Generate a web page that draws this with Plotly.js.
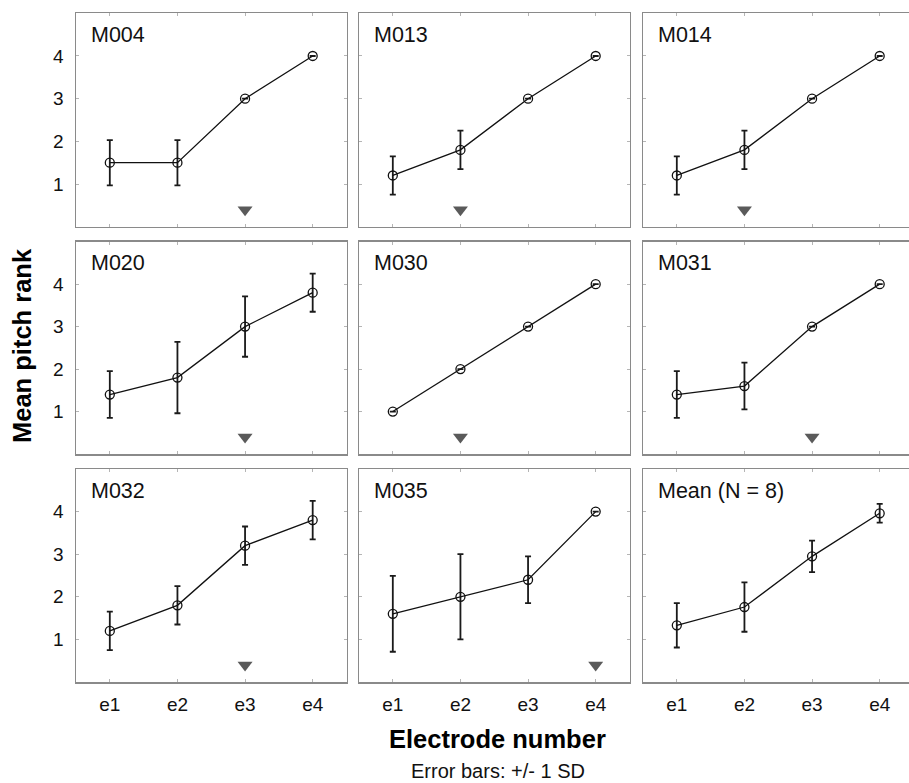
<!DOCTYPE html>
<html>
<head>
<meta charset="utf-8">
<script src="https://cdn.plot.ly/plotly-3.0.1.min.js"></script>
<style>
  html, body { margin: 0; padding: 0; overflow: hidden; background: #fff; }
</style>
</head>
<body>
<div id="chart"></div>
<script>
// Electrode categories along the x axis
const electrodes = ['e1', 'e2', 'e3', 'e4'];

// Panel titles, read left-to-right, top-to-bottom
const panelTitles = ['M004', 'M013', 'M014', 'M020', 'M030', 'M031', 'M032', 'M035', 'Mean (N = 8)'];

// Mean pitch rank per electrode, and its standard deviation
const rankM004 = [1.5, 1.5, 3.0, 4.0];
const sdM004   = [0.53, 0.53, 0, 0];
const rankM013 = [1.2, 1.8, 3.0, 4.0];
const sdM013   = [0.45, 0.45, 0, 0];
const rankM014 = [1.2, 1.8, 3.0, 4.0];
const sdM014   = [0.45, 0.45, 0, 0];
const rankM020 = [1.4, 1.8, 3.0, 3.8];
const sdM020   = [0.55, 0.84, 0.71, 0.45];
const rankM030 = [1.0, 2.0, 3.0, 4.0];
const sdM030   = [0, 0, 0, 0];
const rankM031 = [1.4, 1.6, 3.0, 4.0];
const sdM031   = [0.55, 0.55, 0, 0];
const rankM032 = [1.2, 1.8, 3.2, 3.8];
const sdM032   = [0.45, 0.45, 0.45, 0.45];
const rankM035 = [1.6, 2.0, 2.4, 4.0];
const sdM035   = [0.89, 1.0, 0.55, 0];
const rankMean = [1.33, 1.76, 2.95, 3.96];
const sdMean   = [0.52, 0.58, 0.37, 0.22];

// Electrode flagged with a triangle in each panel (none for the group mean)
const flaggedElectrode = ['e3', 'e2', 'e2', 'e3', 'e2', 'e3', 'e3', 'e4', null];
const flagRank = 0.4;

const ranks = [rankM004, rankM013, rankM014, rankM020, rankM030, rankM031, rankM032, rankM035, rankMean];
const sds   = [sdM004, sdM013, sdM014, sdM020, sdM030, sdM031, sdM032, sdM035, sdMean];

const FONT = 'Liberation Sans, Arial, Helvetica, sans-serif';
const W = 909, H = 783;

// Panel frames in pixels: columns [left, right], rows [top, bottom].
// The right-hand column runs off the page edge.
const colPx = [[76, 346.5], [359, 629.5], [643, 914]];
const rowPx = [[13.3, 226.7], [241.7, 454], [469, 682]];
const pxPerCategory = (colPx[0][1] - colPx[0][0]) / 4;

const traces = [];
const layout = {
  width: W,
  height: H,
  margin: { l: 0, r: 0, t: 0, b: 0 },
  paper_bgcolor: '#ffffff',
  plot_bgcolor: '#ffffff',
  showlegend: false,
  font: { family: FONT, color: '#000' },
  annotations: []
};

for (let i = 0; i < 9; i++) {
  const row = Math.floor(i / 3), col = i % 3;
  const sfx = i === 0 ? '' : String(i + 1);
  const xa = 'x' + sfx, ya = 'y' + sfx;

  traces.push({
    type: 'scatter',
    mode: 'lines+markers',
    x: electrodes,
    y: ranks[i],
    xaxis: xa, yaxis: ya,
    line: { color: '#111', width: 1.3 },
    marker: { symbol: 'circle-open', size: 9, color: '#111', line: { width: 1.3, color: '#111' } },
    error_y: { type: 'data', array: sds[i], visible: true, color: '#1a1a1a', thickness: 1.8, width: 3 },
    hoverinfo: 'skip'
  });

  if (flaggedElectrode[i]) {
    traces.push({
      type: 'scatter',
      mode: 'markers',
      x: [flaggedElectrode[i]],
      y: [flagRank],
      xaxis: xa, yaxis: ya,
      marker: { symbol: 'triangle-down', size: 13, color: '#5a5a5a', line: { width: 0 } },
      hoverinfo: 'skip'
    });
  }

  // Clip the last column at the page edge, keeping its category spacing
  const rightPx = Math.min(colPx[col][1], W);
  const xd = [colPx[col][0] / W, rightPx / W];
  const yd = [(H - rowPx[row][1]) / H, (H - rowPx[row][0]) / H];
  const xEnd = -0.5 + (rightPx - colPx[col][0]) / pxPerCategory;
  const clipped = rightPx < colPx[col][1];

  layout['xaxis' + sfx] = {
    domain: xd,
    anchor: ya,
    type: 'category',
    categoryorder: 'array',
    categoryarray: electrodes,
    range: [-0.5, xEnd],
    showgrid: false,
    zeroline: false,
    showline: true,
    linecolor: '#8a8a8a',
    linewidth: 1.5,
    mirror: 'allticks',
    ticks: 'inside',
    ticklen: 3,
    tickwidth: 1,
    tickcolor: '#b5b5b5',
    showticklabels: row === 2,
    ticklabelstandoff: 5,
    tickfont: { family: FONT, size: 19, color: '#111' },
    fixedrange: true
  };
  layout['yaxis' + sfx] = {
    domain: yd,
    anchor: xa,
    range: [0, 5],
    tickvals: [1, 2, 3, 4],
    ticktext: ['1', '2', '3', '4'],
    showgrid: false,
    zeroline: false,
    showline: true,
    linecolor: '#8a8a8a',
    linewidth: 1.5,
    mirror: clipped ? false : 'allticks',
    ticks: 'inside',
    ticklen: 3,
    tickwidth: 1,
    tickcolor: '#b5b5b5',
    showticklabels: col === 0,
    ticklabelstandoff: 7,
    tickfont: { family: FONT, size: 19, color: '#111' },
    fixedrange: true
  };

  layout.annotations.push({
    text: panelTitles[i],
    xref: xa + ' domain', yref: ya + ' domain',
    x: 13 / (rightPx - colPx[col][0]), y: 1 - 21.7 / 213.3,
    xanchor: 'left', yanchor: 'middle',
    showarrow: false,
    font: { family: FONT, size: 21.5, color: '#111' }
  });
}

// Shared axis titles and footnote
layout.annotations.push({
  text: '<b>Mean pitch rank</b>',
  xref: 'paper', yref: 'paper',
  x: 22 / W, y: (H - 346) / H,
  xanchor: 'center', yanchor: 'middle',
  textangle: -90,
  showarrow: false,
  font: { family: FONT, size: 25.5, color: '#000' }
});
layout.annotations.push({
  text: '<b>Electrode number</b>',
  xref: 'paper', yref: 'paper',
  x: 498 / W, y: (H - 739) / H,
  xanchor: 'center', yanchor: 'middle',
  showarrow: false,
  font: { family: FONT, size: 25.5, color: '#000' }
});
layout.annotations.push({
  text: 'Error bars: +/- 1 SD',
  xref: 'paper', yref: 'paper',
  x: 498 / W, y: (H - 771) / H,
  xanchor: 'center', yanchor: 'middle',
  showarrow: false,
  font: { family: FONT, size: 20, color: '#111' }
});

Plotly.newPlot('chart', traces, layout, { staticPlot: true, displayModeBar: false });
</script>
</body>
</html>
